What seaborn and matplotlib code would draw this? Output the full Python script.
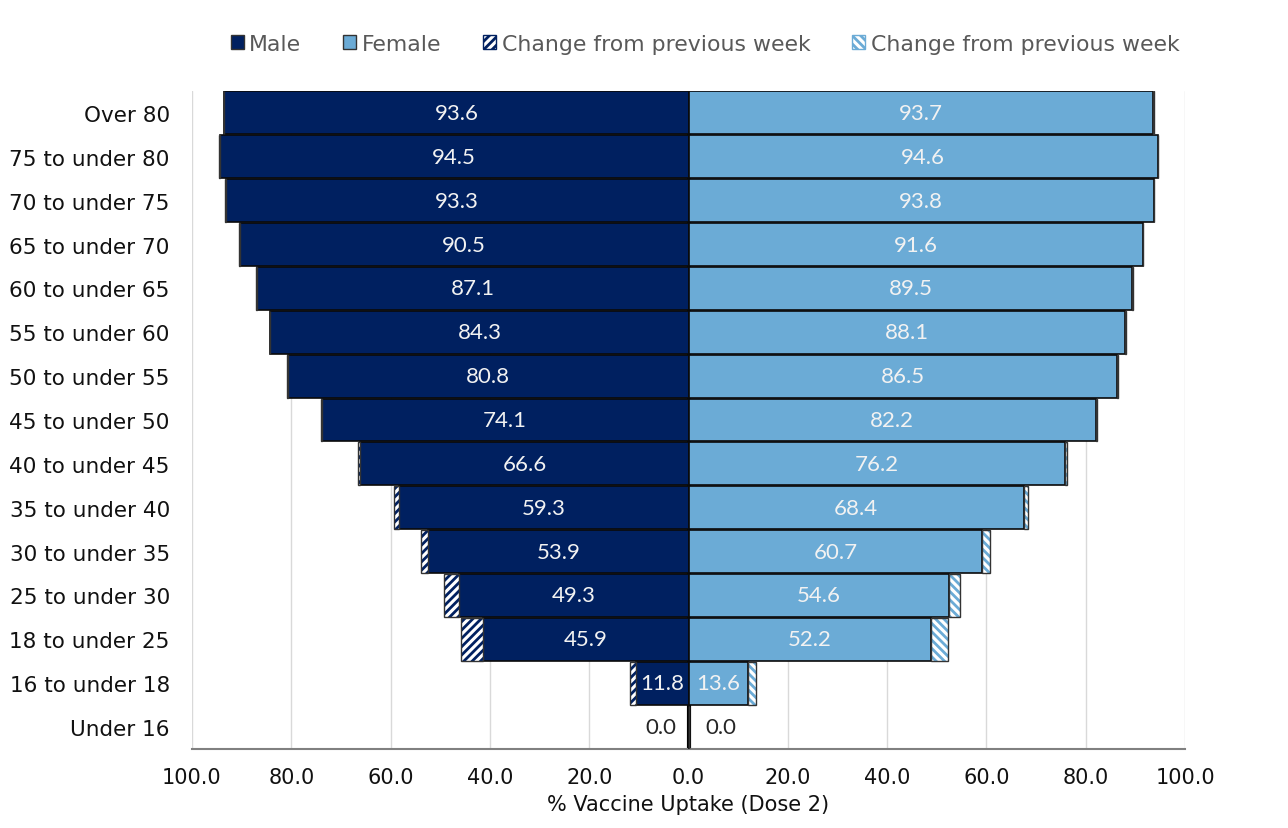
import matplotlib
matplotlib.use("Agg")
import matplotlib.pyplot as plt
import seaborn as sns
import numpy as np
import pandas as pd
from matplotlib.patches import Patch

ages = ["Over 80", "75 to under 80", "70 to under 75", "65 to under 70", "60 to under 65",
        "55 to under 60", "50 to under 55", "45 to under 50", "40 to under 45", "35 to under 40",
        "30 to under 35", "25 to under 30", "18 to under 25", "16 to under 18", "Under 16"]
male = [93.6, 94.5, 93.3, 90.5, 87.1, 84.3, 80.8, 74.1, 66.6, 59.3, 53.9, 49.3, 45.9, 11.8, 0.0]
female = [93.7, 94.6, 93.8, 91.6, 89.5, 88.1, 86.5, 82.2, 76.2, 68.4, 60.7, 54.6, 52.2, 13.6, 0.0]
male_change = [0.1, 0.1, 0.1, 0.1, 0.1, 0.1, 0.1, 0.2, 0.5, 1.0, 1.5, 3.0, 4.6, 1.2, 0.0]
female_change = [0.1, 0.1, 0.1, 0.1, 0.1, 0.1, 0.1, 0.2, 0.4, 0.9, 1.5, 2.1, 3.4, 1.7, 0.0]
xticks = [-100, -80, -60, -40, -20, 0, 20, 40, 60, 80, 100]

MALE_C = "#002060"
FEMALE_C = "#6BABD6"

sns.set_theme(style="white")
plt.rcParams['font.family'] = ['DejaVu Sans']

fig = plt.figure(figsize=(12.88, 8.29), dpi=100)
ax = fig.add_axes([192/1288, 1-750/829, (1185-192)/1288, (750-92)/829])

df = pd.DataFrame({
    "age": ages,
    "male_prev": [-(m - c) for m, c in zip(male, male_change)],
    "female_prev": [f - c for f, c in zip(female, female_change)],
})

sns.barplot(data=df, y="age", x="male_prev", order=ages, color=MALE_C, orient="h",
            width=0.98, edgecolor="#0a0a0a", linewidth=1.2, saturation=1, ax=ax, zorder=3)
sns.barplot(data=df, y="age", x="female_prev", order=ages, color=FEMALE_C, orient="h",
            width=0.98, edgecolor="#0a0a0a", linewidth=1.2, saturation=1, ax=ax, zorder=3)

ypos = np.arange(len(ages))
plt.rcParams['hatch.linewidth'] = 2.0
ax.barh(ypos, [-c for c in male_change], left=df["male_prev"], height=0.98,
        color="white", edgecolor=MALE_C, hatch="////", linewidth=0, zorder=3)
ax.barh(ypos, [-c for c in male_change], left=df["male_prev"], height=0.98,
        fill=False, edgecolor="#333333", linewidth=1.0, zorder=4)
ax.barh(ypos, female_change, left=df["female_prev"], height=0.98,
        color="white", edgecolor=FEMALE_C, hatch="\\\\\\\\", linewidth=0, zorder=3)
ax.barh(ypos, female_change, left=df["female_prev"], height=0.98,
        fill=False, edgecolor="#333333", linewidth=1.0, zorder=4)

ax.axvline(0, color="black", lw=3, zorder=2)

for i, (m, f, mp, fp) in enumerate(zip(male, female, df["male_prev"], df["female_prev"])):
    if m > 0:
        ax.text(mp / 2, i, f"{m:.1f}", ha="center", va="center", color="#F2F2F2",
                fontsize=16, family="Lato", zorder=5)
    else:
        ax.text(-5.5, i, f"{m:.1f}", ha="center", va="center", color="#262626",
                fontsize=16, family="Lato", zorder=5)
    if f > 0:
        ax.text(fp / 2, i, f"{f:.1f}", ha="center", va="center", color="#F2F2F2",
                fontsize=16, family="Lato", zorder=5)
    else:
        ax.text(6.5, i, f"{f:.1f}", ha="center", va="center", color="#262626",
                fontsize=16, family="Lato", zorder=5)

ax.set_xlim(-100, 100)
ax.set_ylim(len(ages) - 0.5, -0.5)
ax.set_xticks(xticks)
ax.set_xticklabels([f"{abs(v):.1f}" for v in xticks], fontsize=15, color="#111111")
ax.tick_params(axis="x", length=0, pad=13)
ax.tick_params(axis="y", length=0, pad=16, labelsize=15.5, labelcolor="#111111")
ax.set_ylabel("")
ax.set_xlabel("% Vaccine Uptake (Dose 2)", fontsize=15, color="#111111", labelpad=5)
ax.grid(axis="x", color="#D9D9D9", lw=1, zorder=0)
ax.set_axisbelow(True)
for s in ["top", "right", "left"]:
    ax.spines[s].set_visible(False)
ax.spines["bottom"].set_color("#808080")
ax.spines["bottom"].set_linewidth(1.5)

handles = [
    Patch(facecolor=MALE_C, edgecolor="#333333"),
    Patch(facecolor=FEMALE_C, edgecolor="#333333"),
    Patch(facecolor="white", edgecolor=MALE_C, hatch="////"),
    Patch(facecolor="white", edgecolor=FEMALE_C, hatch="\\\\\\\\"),
]
labels = ["Male", "Female", "Change from previous week", "Change from previous week"]
fig.legend(handles, labels, loc="center", bbox_to_anchor=(705/1288, 1-45/829), ncol=4,
           frameon=False, fontsize=15.8, handlelength=0.6, handleheight=0.6,
           handletextpad=0.25, columnspacing=1.9, labelcolor="#595959")

fig.savefig("out.png", dpi=100)
